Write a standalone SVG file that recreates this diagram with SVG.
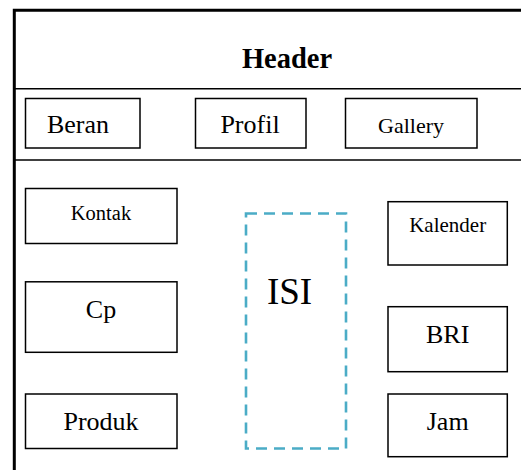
<svg xmlns="http://www.w3.org/2000/svg" width="521" height="470" viewBox="0 0 521 470">
<style>
.box{fill:#fff;stroke:#000;stroke-width:1.5}
.t{fill:#000;text-anchor:middle}
.frame{stroke:#000;fill:none}
</style>
<rect width="521" height="470" fill="#fff"/>
<g id="frame">
<path class="frame" d="M14.3 470 V10.3 H521" stroke-width="3"/>
<line class="frame" x1="14" y1="88.7" x2="521" y2="88.7" stroke-width="1.5"/>
<line class="frame" x1="14" y1="160" x2="521" y2="160" stroke-width="1.5"/>
</g>
<g font-family="Liberation Serif, DejaVu Serif, serif">
<g id="header"><text class="t" x="287" y="68" font-size="28.5" font-weight="bold">Header</text></g>
<g id="beran"><rect class="box" x="25.5" y="98.5" width="114.5" height="49.5"/><text class="t" x="78" y="133" font-size="26">Beran</text></g>
<g id="profil"><rect class="box" x="195.5" y="98.5" width="110.5" height="49.5"/><text class="t" x="250" y="133" font-size="26">Profil</text></g>
<g id="gallery"><rect class="box" x="345.5" y="98.5" width="131.5" height="49.5"/><text class="t" x="411" y="133" font-size="22">Gallery</text></g>
<g id="kontak"><rect class="box" x="25.5" y="188.5" width="151.5" height="55"/><text class="t" x="101" y="219.5" font-size="20.5">Kontak</text></g>
<g id="cp"><rect class="box" x="25.5" y="281.8" width="151.5" height="70.5"/><text class="t" x="101" y="318" font-size="26">Cp</text></g>
<g id="produk"><rect class="box" x="25.5" y="394" width="151.5" height="54.5"/><text class="t" x="101" y="429.5" font-size="26">Produk</text></g>
<g id="isi"><rect x="246" y="213.5" width="100" height="235" fill="none" stroke="#4BACC6" stroke-width="2.6" stroke-dasharray="11 7"/><text class="t" x="289.5" y="303.5" font-size="37">ISI</text></g>
<g id="kalender"><rect class="box" x="388" y="201.7" width="119.3" height="63.3"/><text class="t" x="447.7" y="232" font-size="21">Kalender</text></g>
<g id="bri"><rect class="box" x="388" y="306.7" width="119.3" height="65"/><text class="t" x="447.7" y="343" font-size="26">BRI</text></g>
<g id="jam"><rect class="box" x="388" y="394" width="119.3" height="62.7"/><text class="t" x="447.7" y="429.5" font-size="26">Jam</text></g>
</g>
<g id="connectors"></g>
</svg>
